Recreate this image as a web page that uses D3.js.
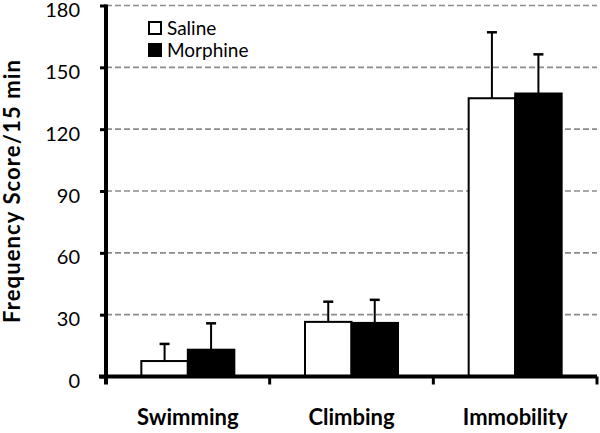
<!DOCTYPE html>
<html>
<head>
<meta charset="utf-8">
<script src="https://cdn.jsdelivr.net/npm/d3@7"></script>
<style>
  html, body { margin: 0; padding: 0; background: #fff; }
  svg { display: block; }
  text { font-family: Lato, "Open Sans", sans-serif; fill: #000; }
</style>
</head>
<body>
<svg id="chart" width="600" height="433"></svg>
<script>
const categories = ["Swimming", "Climbing", "Immobility"];
const seriesNames = ["Saline", "Morphine"];
const salineMean = [7.5, 26.5, 135];
const salineErr = [8.3, 9.8, 32];
const morphineMean = [13, 26, 137.3];
const morphineErr = [12.8, 11.2, 19];
const yTicks = [0, 30, 60, 90, 120, 150, 180];
const fills = ["#ffffff", "#000000"];

const svg = d3.select("#chart");
const x0 = 106, x1 = 597, yTop = 5.5, yBot = 376.5;

const x = d3.scaleBand().domain(categories).range([x0, x1]).paddingInner(0).paddingOuter(0);
const xs = d3.scaleBand().domain(seriesNames).range([0, x.bandwidth()]).paddingInner(0).paddingOuter(0.76);
const y = d3.scaleLinear().domain([0, 180]).range([yBot, yTop]);

// gridlines
svg.append("g").selectAll("line").data(yTicks.filter(d => d > 0)).join("line")
  .attr("x1", x0).attr("x2", x1)
  .attr("y1", d => y(d)).attr("y2", d => y(d))
  .attr("stroke", "#8c8c8c").attr("stroke-width", 1.6).attr("stroke-dasharray", "6,3");

const data = categories.map((c, i) => [
  {cat: c, s: "Saline", v: salineMean[i], e: salineErr[i], f: fills[0]},
  {cat: c, s: "Morphine", v: morphineMean[i], e: morphineErr[i], f: fills[1]}
]).flat();

// error bars
const eb = svg.append("g");
data.forEach(d => {
  const cx = x(d.cat) + xs(d.s) + xs.bandwidth() / 2;
  eb.append("line").attr("x1", cx).attr("x2", cx).attr("y1", y(d.v)).attr("y2", y(d.v + d.e))
    .attr("stroke", "#000").attr("stroke-width", 2);
  eb.append("line").attr("x1", cx - 5).attr("x2", cx + 5).attr("y1", y(d.v + d.e)).attr("y2", y(d.v + d.e))
    .attr("stroke", "#000").attr("stroke-width", 2.5);
});

// bars
svg.append("g").selectAll("rect").data(data).join("rect")
  .attr("x", d => x(d.cat) + xs(d.s))
  .attr("width", xs.bandwidth())
  .attr("y", d => y(d.v))
  .attr("height", d => y(0) - y(d.v))
  .attr("fill", d => d.f)
  .attr("stroke", "#000").attr("stroke-width", 2);

// y axis
const yAxis = d3.axisLeft(y).tickValues(yTicks).tickSize(6).tickPadding(20);
const gy = svg.append("g").attr("transform", `translate(${x0},0)`).call(yAxis);
gy.select(".domain").attr("stroke-width", 4).attr("d", `M0,${yTop - 1}V${yBot + 1}`);
gy.selectAll(".tick line").attr("stroke-width", 3);
gy.selectAll(".tick text").style("font-size", "20px").attr("dy", "0.55em").style("font-family", "Lato, sans-serif");

// x axis
const xAxis = d3.axisBottom(x).tickSize(0).tickPadding(33);
const gx = svg.append("g").attr("transform", `translate(0,${yBot})`).call(xAxis);
gx.select(".domain").attr("stroke-width", 4).attr("d", `M${x0 - 7},0H${x1}`);
gx.selectAll(".tick text").style("font-size", "22px").style("font-weight", "bold").style("font-family", "Lato, sans-serif");
// category boundary ticks
gx.append("g").selectAll("line").data(categories).join("line")
  .attr("x1", d => x(d) + x.bandwidth()).attr("x2", d => x(d) + x.bandwidth())
  .attr("y1", 0).attr("y2", 8).attr("stroke", "#000").attr("stroke-width", 3);
gx.append("line").attr("x1", x0).attr("x2", x0).attr("y1", 0).attr("y2", 8).attr("stroke", "#000").attr("stroke-width", 4);

// y label
svg.append("text")
  .attr("transform", `translate(20,191.5) rotate(-90)`)
  .attr("text-anchor", "middle")
  .attr("textLength", 263).attr("lengthAdjust", "spacing")
  .style("font-size", "22px").style("font-weight", "bold")
  .text("Frequency Score/15 min");

// legend
const lg = svg.append("g").attr("transform", "translate(149,22)");
seriesNames.forEach((s, i) => {
  const g = lg.append("g").attr("transform", `translate(0,${i * 22})`);
  g.append("rect").attr("x", 0).attr("y", 0).attr("width", 12).attr("height", 12)
    .attr("fill", fills[i]).attr("stroke", "#000").attr("stroke-width", 2);
  g.append("text").attr("x", 18).attr("y", 13).style("font-size", "19px").text(s);
});
</script>
</body>
</html>
